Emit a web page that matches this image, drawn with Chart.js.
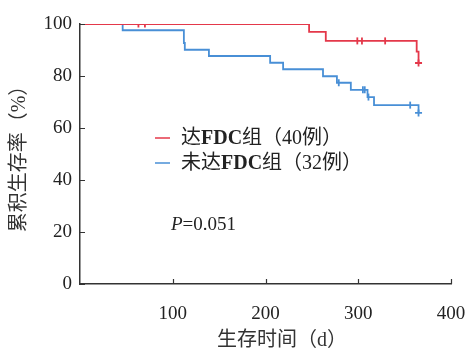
<!DOCTYPE html>
<html>
<head>
<meta charset="utf-8">
<title>KM</title>
<script src="https://cdn.jsdelivr.net/npm/chart.js@4/dist/chart.umd.min.js"></script>
<style>
  html, body { margin: 0; padding: 0; background: #fff; }
</style>
</head>
<body>
<canvas id="kmChart" width="468" height="351"></canvas>
<script>
// 达FDC组 - survival steps (days, %)
var fdcTimes = [0, 247, 265, 363, 365];
var fdcSurv = [100, 97.0, 93.5, 89.4, 85.0];
// 达FDC组 - censored
var fdcCensorTimes = [63, 70, 299, 304, 329, 365];
var fdcCensorSurv = [100, 100, 93.5, 93.5, 93.5, 85.0];

// 未达FDC组 - survival steps
var noFdcTimes = [0, 46, 112, 113, 139, 205, 219, 262, 277, 292, 310, 317, 365];
var noFdcSurv = [100, 97.6, 92.7, 90.1, 87.7, 85.1, 82.6, 79.9, 77.4, 74.7, 71.9, 68.8, 65.8];
// 未达FDC组 - censored
var noFdcCensorTimes = [279, 305, 307, 311, 356, 365];
var noFdcCensorSurv = [77.4, 74.7, 74.7, 71.9, 68.8, 65.8];

// axes
var xTicks = [0, 100, 200, 300, 400];
var yTicks = [0, 20, 40, 60, 80, 100];
var groupLabels = ['达FDC组（40例）', '未达FDC组（32例）'];
var xTitle = '生存时间（d）';
var yTitle = '累积生存率（%）';
var pLabel = 'P';
var pValue = '=0.051';

var red = 'rgb(228, 56, 74)';
var blue = 'rgb(72, 143, 214)';
var axisColor = '#333333';
var serif = '"Liberation Serif", "Times New Roman", "Noto Sans CJK SC", serif';

function toPoints(xs, ys) {
    return xs.map(function (x, i) { return { x: x, y: ys[i] }; });
}

// censor marks: short vertical ticks, the last one (end of follow-up) a cross
function censorStyles(n) {
    var s = [];
    for (var i = 0; i < n; i++) s.push(i === n - 1 ? 'cross' : 'line');
    return s;
}

// draw text where the latin "FDC" part is bold
function drawMixed(ctx, text, x, y, size) {
    var parts = text.split(/(FDC)/);
    parts.forEach(function (p) {
        if (!p) return;
        ctx.font = (p === 'FDC' ? 'bold ' : '') + size + 'px ' + serif;
        ctx.fillText(p, x, y);
        x += ctx.measureText(p).width;
    });
}

// no extra room for overflowing tick labels; layout padding sets the plot box
function noScalePadding(s) {
    s.paddingLeft = 0;
    s.paddingRight = 0;
    s.paddingTop = 0;
    s.paddingBottom = 0;
}

// inward ticks, legend, P value and x title
var kmDecor = {
    id: 'kmDecor',
    afterDraw: function (chart) {
        var ctx = chart.ctx;
        var xs = chart.scales.x;
        var ys = chart.scales.y;
        var area = chart.chartArea;
        ctx.save();

        ctx.strokeStyle = axisColor;
        ctx.lineWidth = 1.2;
        ctx.beginPath();
        xTicks.forEach(function (v) {
            if (v === 0) return;
            var px = Math.round(xs.getPixelForValue(v)) + 0.5;
            ctx.moveTo(px, area.bottom);
            ctx.lineTo(px, area.bottom - 5);
        });
        yTicks.forEach(function (v) {
            var py = Math.round(ys.getPixelForValue(v)) + 0.5;
            ctx.moveTo(area.left, py);
            ctx.lineTo(area.left + 5, py);
        });
        ctx.stroke();

        // legend
        var colors = [red, blue];
        ctx.textBaseline = 'middle';
        ctx.textAlign = 'left';
        groupLabels.forEach(function (label, i) {
            var y = 138 + i * 25;
            ctx.strokeStyle = colors[i];
            ctx.lineWidth = 1.5;
            ctx.beginPath();
            ctx.moveTo(155, y);
            ctx.lineTo(170, y);
            ctx.stroke();
            ctx.fillStyle = '#222';
            drawMixed(ctx, label, 181, y + 1, 20);
        });

        // P value
        ctx.fillStyle = '#222';
        ctx.font = 'italic 19px ' + serif;
        ctx.fillText(pLabel, 171, 225);
        var pw = ctx.measureText(pLabel).width;
        ctx.font = '19px ' + serif;
        ctx.fillText(pValue, 171 + pw, 225);

        // x axis title
        ctx.fillStyle = '#333';
        ctx.textAlign = 'center';
        ctx.font = '20px ' + serif;
        ctx.fillText(xTitle, 282, 341);

        ctx.restore();
    }
};

var ctx = document.getElementById('kmChart').getContext('2d');
var kmChart = new Chart(ctx, {
    type: 'line',
    data: {
        datasets: [{
            label: groupLabels[0],
            data: toPoints(fdcTimes, fdcSurv),
            borderColor: red,
            borderWidth: 1.8,
            stepped: true,
            pointRadius: 0,
            fill: false
        }, {
            label: groupLabels[1],
            data: toPoints(noFdcTimes, noFdcSurv),
            borderColor: blue,
            borderWidth: 1.8,
            stepped: true,
            pointRadius: 0,
            fill: false
        }, {
            label: 'censor1',
            data: toPoints(fdcCensorTimes, fdcCensorSurv),
            showLine: false,
            pointStyle: censorStyles(fdcCensorTimes.length),
            pointRotation: 90,
            pointRadius: 3.5,
            pointBorderColor: red,
            pointBorderWidth: 1.8
        }, {
            label: 'censor2',
            data: toPoints(noFdcCensorTimes, noFdcCensorSurv),
            showLine: false,
            pointStyle: censorStyles(noFdcCensorTimes.length),
            pointRotation: 90,
            pointRadius: 3.5,
            pointBorderColor: blue,
            pointBorderWidth: 1.8
        }]
    },
    options: {
        responsive: false,
        animation: false,
        events: [],
        layout: { padding: { top: 24, right: 17, bottom: 0, left: 0 } },
        plugins: {
            legend: { display: false },
            tooltip: { enabled: false }
        },
        scales: {
            x: {
                type: 'linear',
                min: 0,
                max: 400,
                afterBuildTicks: function (s) {
                    s.ticks = xTicks.map(function (v) { return { value: v }; });
                },
                afterFit: function (s) { s.height = 67; noScalePadding(s); },
                grid: { display: false },
                border: { display: true, color: axisColor, width: 1.5 },
                ticks: {
                    autoSkip: false,
                    maxRotation: 0,
                    padding: 11,
                    color: '#222',
                    font: { family: serif, size: 19 },
                    callback: function (v) { return v === 0 ? '' : v; }
                }
            },
            y: {
                type: 'linear',
                min: 0,
                max: 100,
                afterBuildTicks: function (s) {
                    s.ticks = yTicks.map(function (v) { return { value: v }; });
                },
                afterFit: function (s) { s.width = 80; noScalePadding(s); },
                grid: { display: false },
                border: { display: true, color: axisColor, width: 1.5 },
                ticks: {
                    padding: 0,
                    color: '#222',
                    font: { family: serif, size: 19 }
                },
                title: {
                    display: true,
                    text: yTitle,
                    color: '#333',
                    font: { family: serif, size: 20 },
                    padding: { top: 8, bottom: 0 }
                }
            }
        }
    },
    plugins: [kmDecor]
});
</script>
</body>
</html>
